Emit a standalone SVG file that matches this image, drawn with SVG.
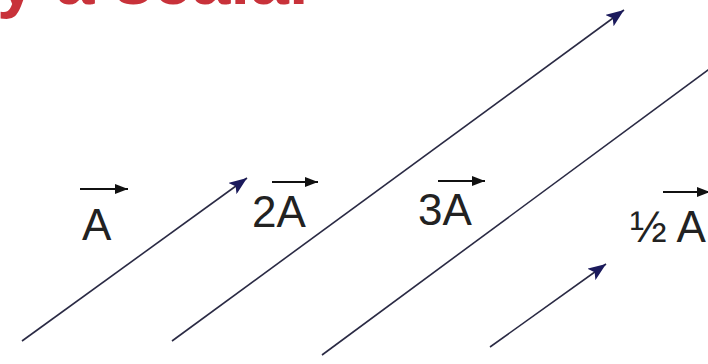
<svg xmlns="http://www.w3.org/2000/svg" width="708" height="364" viewBox="0 0 708 364">
  <style>
    .vec { stroke: #2a2a44; stroke-width: 1.6; fill: none; }
    .lbl { font-family: "Liberation Sans", Arial, sans-serif; font-size: 44px; fill: #222; }
    .lblarrow { stroke: #111; stroke-width: 1.8; fill: none; }
    .title { font-family: "Liberation Sans", Arial, sans-serif; font-size: 70px; font-weight: bold; fill: #c8323a; }
  </style>
  <defs>
    <marker id="head" markerUnits="userSpaceOnUse" markerWidth="20" markerHeight="14" refX="18" refY="7" orient="auto">
      <path d="M0,0 L18,7 L0,14 L4,7 z" fill="#1b1a5c"/>
    </marker>
    <marker id="lhead" markerUnits="userSpaceOnUse" markerWidth="14" markerHeight="10" refX="13" refY="5" orient="auto">
      <path d="M0,0 L13,5 L0,10 z" fill="#111"/>
    </marker>
  </defs>
  <rect width="708" height="364" fill="#ffffff"/>
  <text class="title" x="-3" y="4">y a scalar</text>

  <g id="connectors">
    <line id="vecA" class="vec" x1="22" y1="341" x2="247" y2="178" marker-end="url(#head)"/>
    <line id="vec2A" class="vec" x1="172" y1="341" x2="624" y2="10" marker-end="url(#head)"/>
    <line id="vec3A" class="vec" x1="322" y1="355" x2="716" y2="64"/>
    <line id="vecHalfA" class="vec" x1="490" y1="347" x2="606" y2="264" marker-end="url(#head)"/>
  </g>

  <g id="labelA">
    <line class="lblarrow" x1="80" y1="189" x2="128" y2="189" marker-end="url(#lhead)"/>
    <text class="lbl" x="82" y="240">A</text>
  </g>
  <g id="label2A">
    <line class="lblarrow" x1="272" y1="182" x2="318" y2="182" marker-end="url(#lhead)"/>
    <text class="lbl" x="252" y="227">2A</text>
  </g>
  <g id="label3A">
    <line class="lblarrow" x1="438" y1="181" x2="485" y2="181" marker-end="url(#lhead)"/>
    <text class="lbl" x="418" y="225">3A</text>
  </g>
  <g id="labelHalfA">
    <line class="lblarrow" x1="663" y1="192" x2="710" y2="192" marker-end="url(#lhead)"/>
    <text class="lbl" x="630" y="242">½ A</text>
  </g>
</svg>
